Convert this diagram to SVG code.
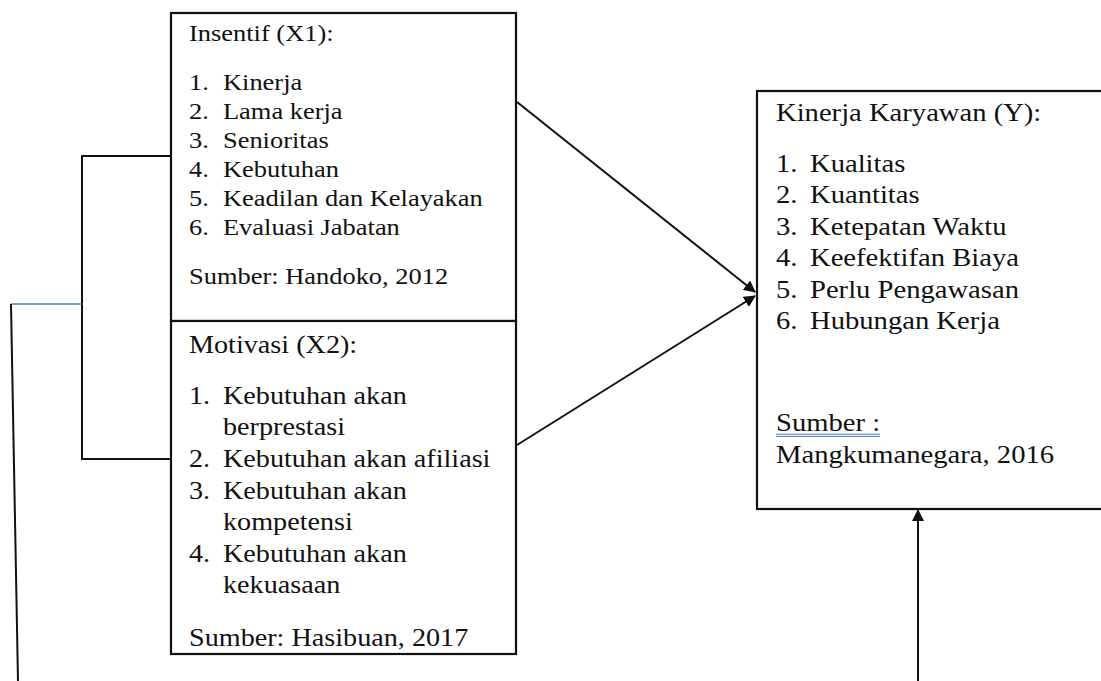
<svg xmlns="http://www.w3.org/2000/svg" width="1101" height="681" viewBox="0 0 1101 681">
<style>
.box{fill:#fff;stroke:#111;stroke-width:2.2}
.t{font-family:"Liberation Serif","Times New Roman",serif;fill:#111}
.c{fill:none;stroke:#111;stroke-width:2}
</style>
<defs>
<marker id="ah" viewBox="0 0 12 12" refX="11" refY="6" markerWidth="12" markerHeight="12" markerUnits="userSpaceOnUse" orient="auto">
<path d="M0,0 L12,6 L0,12 Z" fill="#111"/>
</marker>
</defs>
<rect width="1101" height="681" fill="#fff"/>
<g id="x1">
<rect class="box" x="171" y="13" width="345" height="308"/>
<g class="t" font-size="23.2" transform="translate(189,0) scale(1.14,1)">
<text x="0" y="41">Insentif (X1):</text>
<text x="0" y="90">1.</text><text x="29.8" y="90">Kinerja</text>
<text x="0" y="119">2.</text><text x="29.8" y="119">Lama kerja</text>
<text x="0" y="148">3.</text><text x="29.8" y="148">Senioritas</text>
<text x="0" y="177">4.</text><text x="29.8" y="177">Kebutuhan</text>
<text x="0" y="206">5.</text><text x="29.8" y="206">Keadilan dan Kelayakan</text>
<text x="0" y="235">6.</text><text x="29.8" y="235">Evaluasi Jabatan</text>
<text x="0" y="284">Sumber: Handoko, 2012</text>
</g>
</g>
<g id="x2">
<rect class="box" x="171" y="321" width="345" height="333"/>
<g class="t" font-size="24.6" transform="translate(189,0) scale(1.145,1)">
<text x="0" y="353">Motivasi (X2):</text>
<text x="0" y="404">1.</text><text x="29.7" y="404">Kebutuhan akan</text>
<text x="29.7" y="435">berprestasi</text>
<text x="0" y="467">2.</text><text x="29.7" y="467">Kebutuhan akan afiliasi</text>
<text x="0" y="499">3.</text><text x="29.7" y="499">Kebutuhan akan</text>
<text x="29.7" y="530">kompetensi</text>
<text x="0" y="562">4.</text><text x="29.7" y="562">Kebutuhan akan</text>
<text x="29.7" y="593">kekuasaan</text>
<text x="0" y="646">Sumber: Hasibuan, 2017</text>
</g>
</g>
<g id="y">
<rect class="box" x="757" y="91" width="360" height="418"/>
<g class="t" font-size="25" transform="translate(776,0) scale(1.145,1)">
<text x="0" y="121">Kinerja Karyawan (Y):</text>
<text x="0" y="172">1.</text><text x="29.7" y="172">Kualitas</text>
<text x="0" y="203">2.</text><text x="29.7" y="203">Kuantitas</text>
<text x="0" y="235">3.</text><text x="29.7" y="235">Ketepatan Waktu</text>
<text x="0" y="266">4.</text><text x="29.7" y="266">Keefektifan Biaya</text>
<text x="0" y="298">5.</text><text x="29.7" y="298">Perlu Pengawasan</text>
<text x="0" y="329">6.</text><text x="29.7" y="329">Hubungan Kerja</text>
<text x="0" y="431">Sumber :</text>
<text x="0" y="463">Mangkumanegara, 2016</text>
</g>
<line x1="776" y1="434.2" x2="880" y2="434.2" stroke="#4a78d0" stroke-width="1"/>
<line x1="776" y1="436.4" x2="880" y2="436.4" stroke="#4a78d0" stroke-width="1"/>
</g>
<g id="connectors">
<line class="c" x1="517" y1="102" x2="755" y2="292" marker-end="url(#ah)"/>
<line class="c" x1="517" y1="445" x2="755" y2="296" marker-end="url(#ah)"/>
<line class="c" x1="918" y1="681" x2="918" y2="510" marker-end="url(#ah)"/>
<polyline class="c" points="171,156 82,156 82,459 171,459"/>
<line x1="11" y1="304" x2="82" y2="304" stroke="#4a78d0" stroke-width="1.5"/>
<line class="c" x1="11" y1="304" x2="18" y2="681"/>
</g>
</svg>
